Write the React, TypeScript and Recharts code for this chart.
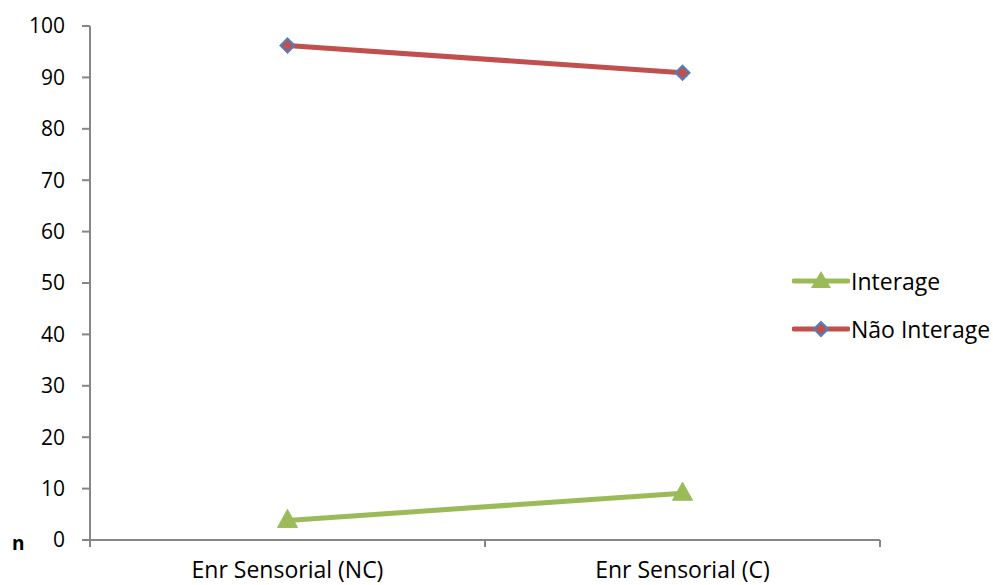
import React from "react";
import { LineChart, Line, XAxis, YAxis } from "recharts";

const categories = ["Enr Sensorial (NC)", "Enr Sensorial (C)"];
const interage = [3.8, 9.1];
const naoInterage = [96.2, 90.9];
const yTicks = [0, 10, 20, 30, 40, 50, 60, 70, 80, 90, 100];

const series = [
  { key: "interage", name: "Interage", color: "#9BBB59", marker: "triangle" },
  { key: "naoInterage", name: "Não Interage", color: "#C0504D", marker: "diamond" },
];

const data = categories.map((c, i) => ({
  cat: c,
  interage: interage[i],
  naoInterage: naoInterage[i],
}));

const FONT = "'Open Sans', Lato, sans-serif";
const AXIS = "#868686";

const Triangle = (props: any) => {
  const { cx, cy } = props;
  if (cx == null || cy == null) return null;
  return (
    <path
      d={`M${cx},${cy - 11} L${cx + 10},${cy + 7} L${cx - 10},${cy + 7} Z`}
      fill="#9BBB59"
      stroke="#9BBB59"
      strokeWidth={1}
    />
  );
};

const Diamond = (props: any) => {
  const { cx, cy } = props;
  if (cx == null || cy == null) return null;
  return (
    <path
      d={`M${cx},${cy - 7} L${cx + 7},${cy} L${cx},${cy + 7} L${cx - 7},${cy} Z`}
      fill="#C0504D"
      stroke="#4F81BD"
      strokeWidth={2}
    />
  );
};

const CatTick = (props: any) => {
  const { x, y, payload } = props;
  const off = payload && payload.offset ? payload.offset : 0;
  return (
    <g>
      <line x1={x - off} y1={y} x2={x - off} y2={y + 7} stroke={AXIS} strokeWidth={2} />
      <line x1={x + off} y1={y} x2={x + off} y2={y + 7} stroke={AXIS} strokeWidth={2} />
      <text x={x} y={y + 22} dy="0.71em" textAnchor="middle" fill="#000" fontSize={23} fontFamily={FONT}>
        {payload.value}
      </text>
    </g>
  );
};

export default function App() {
  return (
    <div style={{ position: "absolute", left: 0, top: 0, width: 993, height: 585, background: "#fff", fontFamily: FONT }}>
      <LineChart
        width={993}
        height={585}
        data={data}
        margin={{ top: 26, right: 113, bottom: 0, left: 0 }}
      >
        <XAxis
          dataKey="cat"
          scale="band"
          height={45}
          axisLine={{ stroke: AXIS, strokeWidth: 2 }}
          tickLine={false}
          tickSize={0}
          tickMargin={0}
          interval={0}
          tick={<CatTick />}
        />
        <YAxis
          domain={[0, 100]}
          ticks={yTicks}
          width={90}
          tickSize={8}
          tickMargin={17}
          interval={0}
          axisLine={{ stroke: AXIS, strokeWidth: 2 }}
          tickLine={{ stroke: AXIS, strokeWidth: 2 }}
          tick={{ fill: "#000", fontSize: 21, fontFamily: FONT }}
        />
        <Line
          dataKey="naoInterage"
          name="Não Interage"
          stroke="#C0504D"
          strokeWidth={5}
          dot={<Diamond />}
          activeDot={false}
          isAnimationActive={false}
        />
        <Line
          dataKey="interage"
          name="Interage"
          stroke="#9BBB59"
          strokeWidth={5}
          dot={<Triangle />}
          activeDot={false}
          isAnimationActive={false}
        />
      </LineChart>
      <div style={{ position: "absolute", left: 12, top: 530, fontSize: 19, fontWeight: "bold", fontFamily: FONT }}>n</div>
      {series.map((s, i) => (
        <div
          key={s.key}
          style={{ position: "absolute", left: 792, top: 265 + i * 48, height: 32, display: "flex", alignItems: "center" }}
        >
          <svg width={58} height={24}>
            <line x1={2} y1={12} x2={56} y2={12} stroke={s.color} strokeWidth={5} strokeLinecap="round" />
            {s.marker === "triangle" ? (
              <path d="M29,2 L39,19 L19,19 Z" fill={s.color} />
            ) : (
              <path d="M29,5 L36,12 L29,19 L22,12 Z" fill="#C0504D" stroke="#4F81BD" strokeWidth={2} />
            )}
          </svg>
          <span style={{ fontSize: 23, color: "#000", marginLeft: 1 }}>{s.name}</span>
        </div>
      ))}
    </div>
  );
}
